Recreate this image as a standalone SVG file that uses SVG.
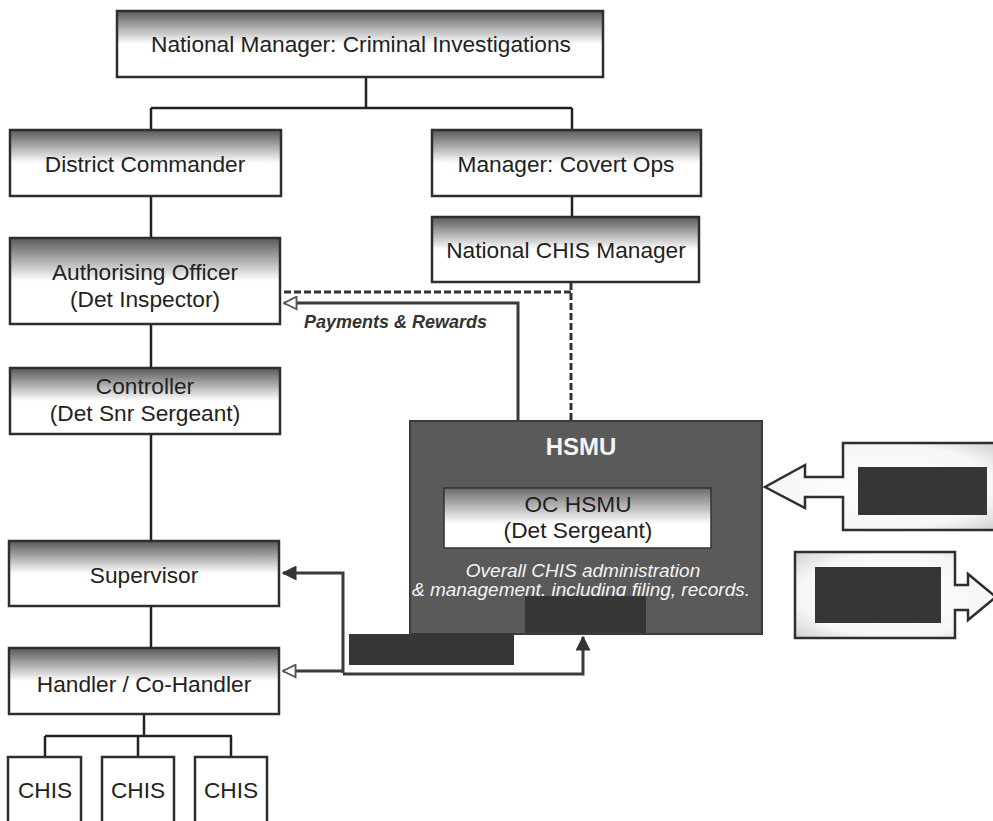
<svg xmlns="http://www.w3.org/2000/svg" width="993" height="821" viewBox="0 0 993 821">
<defs>
<linearGradient id="boxGrad" x1="0" y1="0" x2="0" y2="1">
<stop offset="0" stop-color="#5a5a5a"/>
<stop offset="0.12" stop-color="#808080"/>
<stop offset="0.5" stop-color="#ffffff"/>
<stop offset="1" stop-color="#ffffff"/>
</linearGradient>
<linearGradient id="ocGrad" x1="0" y1="0" x2="0" y2="1">
<stop offset="0" stop-color="#6a6a6a"/>
<stop offset="0.15" stop-color="#909090"/>
<stop offset="0.6" stop-color="#ffffff"/>
<stop offset="1" stop-color="#ffffff"/>
</linearGradient>
<radialGradient id="calloutGrad" cx="0.5" cy="0.5" r="0.75">
<stop offset="0" stop-color="#ffffff"/>
<stop offset="0.65" stop-color="#f6f6f6"/>
<stop offset="1" stop-color="#c8c8c8"/>
</radialGradient>
<marker id="arrowFilled" viewBox="0 0 10 10" refX="9" refY="5" markerWidth="5" markerHeight="5" orient="auto" markerUnits="strokeWidth">
<path d="M0,0 L10,5 L0,10 Z" fill="#333"/>
</marker>
<marker id="arrowOpen" viewBox="0 0 12 12" refX="11" refY="6" markerWidth="5" markerHeight="5" orient="auto" markerUnits="strokeWidth">
<path d="M1,1 L11,6 L1,11 Z" fill="#fff" stroke="#555" stroke-width="1.5"/>
</marker>
</defs>
<style>
.box{fill:url(#boxGrad);stroke:#2e2e2e;stroke-width:2.5}
.plain{fill:#fff;stroke:#2e2e2e;stroke-width:2.5}
.t{font-family:"Liberation Sans",Arial,sans-serif;font-size:22.7px;fill:#222;text-anchor:middle}
.line{fill:none;stroke:#222;stroke-width:2.5}
.conn{fill:none;stroke:#3a3a3a;stroke-width:3}
.dash{fill:none;stroke:#333;stroke-width:3;stroke-dasharray:7,3}
.wt{font-family:"Liberation Sans",Arial,sans-serif;fill:#f4f4f4;text-anchor:middle}
.red{fill:#363636}
</style>
<rect width="993" height="821" fill="#fff"/>

<g id="connectors">
<path class="line" d="M366,77 V108 M151,108 H572 M151,108 V130 M572,108 V130"/>
<path class="line" d="M572,196 V217"/>
<path class="line" d="M151,196 V238"/>
<path class="line" d="M151,324 V368"/>
<path class="line" d="M151,434 V541"/>
<path class="line" d="M151,606 V648"/>
<path class="line" d="M144,714 V736 M45,736 H232 M45,736 V757 M138,736 V757 M231,736 V757"/>
<path class="dash" d="M571,283 V421 M571,292 H282"/>
<path class="conn" d="M518,421 V303 H284" marker-end="url(#arrowOpen)"/>
<path class="conn" d="M343,673 V573 H283" marker-end="url(#arrowFilled)"/>
<path class="conn" d="M343,671 H283" marker-end="url(#arrowOpen)"/>
<path class="conn" d="M343,674 H583 V637" marker-end="url(#arrowFilled)"/>
</g>

<g id="national-manager">
<rect class="box" x="117" y="11" width="486" height="66"/>
<text class="t" x="361" y="52">National Manager: Criminal Investigations</text>
</g>
<g id="district-commander">
<rect class="box" x="10" y="130" width="271" height="66"/>
<text class="t" x="145" y="172">District Commander</text>
</g>
<g id="manager-covert-ops">
<rect class="box" x="432" y="130" width="269" height="66"/>
<text class="t" x="566" y="172">Manager: Covert Ops</text>
</g>
<g id="national-chis-manager">
<rect class="box" x="432" y="217" width="267" height="65"/>
<text class="t" x="566" y="258">National CHIS Manager</text>
</g>
<g id="authorising-officer">
<rect class="box" x="10" y="238" width="270" height="86"/>
<text class="t" x="145" y="280">Authorising Officer</text>
<text class="t" x="145" y="307">(Det Inspector)</text>
</g>
<g id="payments-label">
<text x="304" y="328" style="font-family:'Liberation Sans',Arial,sans-serif;font-size:18px;font-style:italic;font-weight:bold;fill:#333">Payments &amp; Rewards</text>
</g>
<g id="controller">
<rect class="box" x="10" y="368" width="270" height="66"/>
<text class="t" x="145" y="394">Controller</text>
<text class="t" x="145" y="421">(Det Snr Sergeant)</text>
</g>
<g id="supervisor">
<rect class="box" x="9" y="541" width="270" height="65"/>
<text class="t" x="144" y="583">Supervisor</text>
</g>
<g id="handler">
<rect class="box" x="9" y="648" width="270" height="66"/>
<text class="t" x="144" y="692">Handler / Co-Handler</text>
</g>
<g id="chis-1">
<rect class="plain" x="8" y="757" width="73" height="70"/>
<text class="t" x="45" y="798">CHIS</text>
</g>
<g id="chis-2">
<rect class="plain" x="102" y="757" width="72" height="70"/>
<text class="t" x="138" y="798">CHIS</text>
</g>
<g id="chis-3">
<rect class="plain" x="195" y="757" width="72" height="70"/>
<text class="t" x="231" y="798">CHIS</text>
</g>

<g id="hsmu">
<rect x="410" y="421" width="352" height="213" fill="#5a5a5a" stroke="#3c3c3c" stroke-width="2"/>
<text class="wt" x="581" y="455" style="font-size:24px;font-weight:bold">HSMU</text>
<rect x="444" y="488" width="267" height="60" fill="url(#ocGrad)" stroke="#333" stroke-width="1.5"/>
<text class="t" x="578" y="512">OC HSMU</text>
<text class="t" x="578" y="538">(Det Sergeant)</text>
<text class="wt" x="583" y="577" style="font-size:19px;font-style:italic">Overall CHIS administration</text>
<text class="wt" x="581" y="596" style="font-size:19px;font-style:italic">&amp; management, including filing, records.</text>
<rect class="red" x="525" y="596" width="121" height="37"/>
</g>
<g id="redaction-1">
<rect class="red" x="349" y="634" width="165" height="31"/>
</g>

<g id="callout-in">
<path d="M843,443 H998 V530 H843 V497 H805 V508 L765,487 L805,465 V477 H843 Z" fill="url(#calloutGrad)" stroke="#2e2e2e" stroke-width="2.5"/>
<rect class="red" x="858" y="467" width="129" height="48"/>
</g>
<g id="callout-out">
<path d="M795,552 H955 V585 H968 V574 L996,597 L968,620 V610 H955 V638 H795 Z" fill="url(#calloutGrad)" stroke="#2e2e2e" stroke-width="2.5"/>
<rect class="red" x="815" y="567" width="126" height="56"/>
</g>
</svg>
